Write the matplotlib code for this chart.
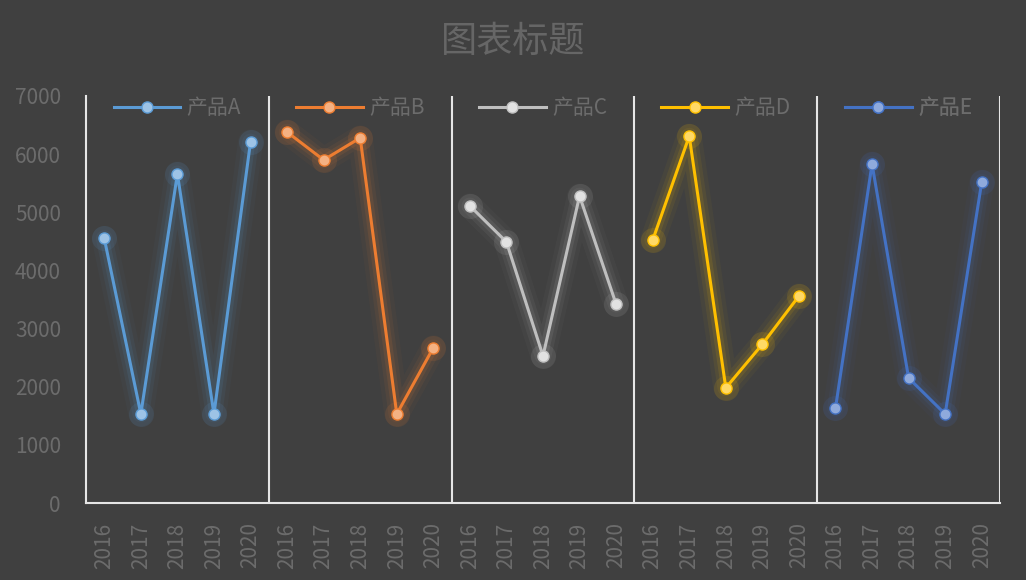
import matplotlib
matplotlib.use("Agg")
import matplotlib.pyplot as plt
import numpy as np

plt.rcParams['font.family'] = ['Noto Sans CJK SC', 'DejaVu Sans']

years = ['2016', '2017', '2018', '2019', '2020']
products = ['产品A', '产品B', '产品C', '产品D', '产品E']
vals_A = [4550, 1530, 5660, 1530, 6210]
vals_B = [6380, 5900, 6280, 1530, 2670]
vals_C = [5110, 4490, 2530, 5280, 3420]
vals_D = [4520, 6310, 1980, 2730, 3560]
vals_E = [1630, 5830, 2150, 1530, 5520]
series = [vals_A, vals_B, vals_C, vals_D, vals_E]
title = '图表标题'
yticks = [0, 1000, 2000, 3000, 4000, 5000, 6000, 7000]

line_colors = ['#5B9BD5', '#ED7D31', '#BFBFBF', '#FFC000', '#4472C4']
marker_colors = ['#9DC3E6', '#F4B183', '#E2E2E2', '#FFD966', '#8FAADC']

bg = '#404040'
txt = '#6C6C6C'

fig = plt.figure(figsize=(10.26, 5.8), dpi=100, facecolor=bg)
ax = fig.add_axes([86/1026, 77/580, 914/1026, 407/580])
ax.set_facecolor(bg)

n = len(years)
ng = len(series)
for i, (vals, lc, mc) in enumerate(zip(series, line_colors, marker_colors)):
    x = np.arange(n) + i * n
    for lw, a in [(18, 0.04), (12, 0.07), (7, 0.11)]:
        ax.plot(x, vals, color=lc, lw=lw, alpha=a, solid_capstyle='round',
                solid_joinstyle='round', zorder=2)
    ax.plot(x, vals, 'o', color=lc, ms=18, alpha=0.12, mec='none', zorder=2)
    h, = ax.plot(x, vals, '-o', color=lc, lw=2.2, ms=8, mfc=mc, mec=lc,
                 mew=1.0, zorder=3, label=products[i])
    leg = ax.legend(handles=[h], loc='center',
                    bbox_to_anchor=((i + 0.5) / ng, (503 - 108) / 407),
                    frameon=False, fontsize=15, labelcolor=txt,
                    handlelength=3.2, handletextpad=0.3, borderaxespad=0,
                    borderpad=0)
    ax.add_artist(leg)

for k in range(1, ng + 1):
    ax.axvline(k * n - 0.5, color='#E6E6E6', lw=1.5, zorder=1)

ax.set_xlim(-0.5, n * ng - 0.5)
ax.set_ylim(0, 7000)
ax.set_yticks(yticks)
ax.set_yticklabels([str(v) for v in yticks], color=txt, fontsize=15)
ax.set_xticks(np.arange(n * ng))
ax.set_xticklabels(years * ng, rotation=90, color=txt, fontsize=15)
ax.tick_params(axis='y', length=0, pad=18)
ax.tick_params(axis='x', length=0, pad=14)

for s in ['top', 'right']:
    ax.spines[s].set_visible(False)
ax.spines['left'].set_color('#E6E6E6')
ax.spines['left'].set_linewidth(1.5)
ax.spines['bottom'].set_color('#E6E6E6')
ax.spines['bottom'].set_linewidth(1.5)

fig.text(0.5, 1 - 42/580, title, ha='center', va='center', fontsize=26, color='#666666')

fig.savefig('out.png', dpi=100, facecolor=bg)
